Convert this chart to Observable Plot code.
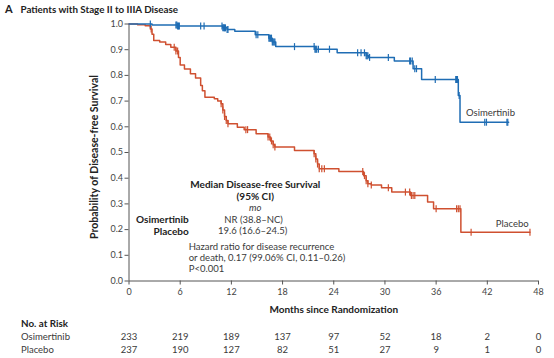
<!DOCTYPE html>
<html><head><meta charset="utf-8">
<script src="https://cdn.jsdelivr.net/npm/d3@7"></script>
<script src="https://cdn.jsdelivr.net/npm/@observablehq/plot@0.6"></script>
<style>
body{margin:0;background:#fff;}
#chart svg{display:block;}
</style></head><body><div id="chart"></div>
<script>
// ---- data ----
const panelLetter = "A";
const title = "Patients with Stage II to IIIA Disease";
const xTicks = [0, 6, 12, 18, 24, 30, 36, 42, 48];
const yTicks = [0, 0.1, 0.2, 0.3, 0.4, 0.5, 0.6, 0.7, 0.8, 0.9, 1.0];

const osiTime = [0, 2.7, 5.7, 11.0, 11.5, 12.4, 14.8, 16.4, 16.8, 17.2, 21.8, 24.4, 27.8, 28.1, 31.1, 33.3, 34.3, 38.6, 38.8];
const osiSurv = [1.0, 0.996, 0.992, 0.985, 0.979, 0.972, 0.958, 0.945, 0.93, 0.912, 0.902, 0.888, 0.876, 0.87, 0.856, 0.826, 0.784, 0.722, 0.618];
const osiEnd = 44.5;
const osiCensor = [2.5, 5.5, 5.6, 5.7, 5.8, 5.9, 8.4, 8.8, 10.9, 11.0, 11.1, 11.2, 11.3, 11.5, 11.6, 14.9, 15.1, 16.4, 16.5, 16.6, 16.7, 16.8, 16.9, 17.0, 17.1, 19.4, 21.7, 21.8, 21.9, 22.0, 22.2, 23.5, 26.8, 27.2, 27.6, 27.8, 27.9, 28.0, 28.2, 30.4, 32.9, 33.0, 33.2, 33.5, 33.7, 35.9, 38.3, 38.4, 38.5, 38.7, 41.7, 41.9, 44.3, 44.4];

const placTime = [0, 1.0, 1.9, 2.5, 2.7, 2.9, 3.6, 4.3, 4.9, 5.5, 5.8, 6.0, 6.5, 7.2, 7.8, 8.4, 8.6, 8.9, 10.0, 10.4, 10.8, 11.0, 11.2, 11.4, 11.6, 12.7, 13.5, 14.9, 16.3, 16.6, 16.9, 17.1, 19.4, 21.7, 21.9, 22.1, 22.3, 24.6, 27.5, 27.8, 28.0, 28.4, 29.6, 30.8, 33.0, 35.0, 35.7, 38.9];
const placSurv = [1.0, 0.997, 0.993, 0.981, 0.96, 0.936, 0.93, 0.92, 0.91, 0.895, 0.87, 0.84, 0.825, 0.806, 0.79, 0.761, 0.74, 0.715, 0.709, 0.70, 0.69, 0.665, 0.64, 0.625, 0.612, 0.598, 0.589, 0.573, 0.56, 0.545, 0.53, 0.521, 0.508, 0.495, 0.475, 0.455, 0.437, 0.426, 0.41, 0.39, 0.378, 0.374, 0.363, 0.346, 0.333, 0.307, 0.281, 0.19];
const placEnd = 47.0;
const placCensor = [2.6, 5.3, 5.5, 5.7, 10.8, 11.0, 11.2, 11.4, 11.6, 13.7, 13.9, 16.3, 16.5, 16.7, 16.9, 17.1, 21.7, 21.9, 22.1, 22.3, 22.6, 22.9, 27.4, 27.6, 27.8, 28.0, 28.4, 30.4, 32.4, 32.9, 33.1, 33.3, 33.5, 36.0, 38.4, 38.6, 38.8, 40.1, 47.0];

const riskMonths = [0, 6, 12, 18, 24, 30, 36, 42, 48];
const riskOsi = [233, 219, 189, 137, 97, 52, 18, 2, 0];
const riskPlac = [237, 190, 127, 82, 51, 27, 9, 1, 0];

const groupNames = ["Osimertinib", "Placebo"];
const medianText = ["NR (38.8\u2013NC)", "19.6 (16.6\u201324.5)"];
const hrLines = ["Hazard ratio for disease recurrence", "or death, 0.17 (99.06% CI, 0.11\u20130.26)", "P<0.001"];

// ---- helpers ----
const blue = "#1f6db4";
const red = "#cf5030";
const axisColor = "#555";
const dark = "#222";
const grey = "#3a3a3a";
const font = "Lato, 'Open Sans', sans-serif";

function stepData(times, surv, end) {
  const d = times.map((t, i) => ({t, s: surv[i]}));
  d.push({t: end, s: surv[surv.length - 1]});
  return d;
}
function survAt(times, surv, t) {
  let s = surv[0];
  for (let i = 0; i < times.length; i++) if (times[i] <= t) s = surv[i];
  return s;
}
const osiLine = stepData(osiTime, osiSurv, osiEnd);
const placLine = stepData(placTime, placSurv, placEnd);
const osiCens = osiCensor.map(t => ({t, s: survAt(osiTime, osiSurv, t)}));
const placCens = placCensor.map(t => ({t, s: survAt(placTime, placSurv, t)}));
const riskO = riskMonths.map((m, i) => ({m, n: riskOsi[i]}));
const riskP = riskMonths.map((m, i) => ({m, n: riskPlac[i]}));

const vbar = {draw(context, size) { const r = Math.sqrt(size / Math.PI); context.moveTo(0, -r); context.lineTo(0, r); }};

const T = (opts) => Object.assign({lineAnchor: "middle"}, opts);

const chart = Plot.plot({
  width: 554,
  height: 358,
  marginLeft: 128.5,
  marginRight: 16,
  marginTop: 23.5,
  marginBottom: 77.5,
  style: {fontFamily: font, fontSize: "9px", color: "#444", background: "#fff"},
  x: {domain: [0, 48]},
  y: {domain: [0, 1]},
  marks: [
    Plot.axisX({ticks: xTicks, tickSize: 4, tickPadding: 4, label: null, stroke: axisColor}),
    Plot.axisY({ticks: yTicks, tickFormat: d3.format(".1f"), tickSize: 4, tickPadding: 2, label: null, stroke: axisColor}),
    Plot.ruleX([0], {stroke: axisColor, strokeWidth: 1}),
    Plot.ruleY([0], {stroke: axisColor, strokeWidth: 1}),
    Plot.line(placLine, {x: "t", y: "s", curve: "step-after", stroke: red, strokeWidth: 1.5}),
    Plot.line(osiLine, {x: "t", y: "s", curve: "step-after", stroke: blue, strokeWidth: 1.5}),
    Plot.dot(placCens, {x: "t", y: "s", symbol: vbar, r: 3.5, fill: "none", stroke: red, strokeWidth: 1.2}),
    Plot.dot(osiCens, {x: "t", y: "s", symbol: vbar, r: 3.5, fill: "none", stroke: blue, strokeWidth: 1.2}),
    // curve labels
    Plot.text([groupNames[0]], T({x: 39.5, y: 0.654, textAnchor: "start", fill: grey, fontSize: 9.5})),
    Plot.text([groupNames[1]], T({x: 43.0, y: 0.223, textAnchor: "start", fill: grey, fontSize: 9.5})),
    // median box
    Plot.text(["Median Disease-free Survival"], T({x: 14.8, y: 0.375, fontWeight: "bold", fontSize: 10, fill: dark})),
    Plot.text(["(95% CI)"], T({x: 14.8, y: 0.329, fontWeight: "bold", fontSize: 10, fill: dark})),
    Plot.text(["mo"], T({x: 14.8, y: 0.283, fontStyle: "italic", fontSize: 9.5, fill: grey})),
    Plot.text([groupNames[0]], T({x: 7.0, y: 0.239, textAnchor: "end", fontWeight: "bold", fontSize: 10, fill: dark})),
    Plot.text([groupNames[1]], T({x: 7.0, y: 0.193, textAnchor: "end", fontWeight: "bold", fontSize: 10, fill: dark})),
    Plot.text([medianText[0]], T({x: 14.6, y: 0.239, fontSize: 9.5, fill: grey})),
    Plot.text([medianText[1]], T({x: 14.5, y: 0.193, fontSize: 9.5, fill: grey})),
    Plot.text([hrLines[0]], T({x: 7.0, y: 0.134, textAnchor: "start", fontSize: 9.5, fill: grey})),
    Plot.text([hrLines[1]], T({x: 7.0, y: 0.0895, textAnchor: "start", fontSize: 9.5, fill: grey})),
    Plot.text([hrLines[2]], T({x: 7.0, y: 0.0486, textAnchor: "start", fontSize: 9.5, fill: grey})),
    // title
    Plot.text([panelLetter], T({frameAnchor: "top-left", dx: -124, dy: -14.5, textAnchor: "start", fontWeight: "bold", fontSize: 11, fill: dark})),
    Plot.text([title], T({frameAnchor: "top-left", dx: -108.5, dy: -14.5, textAnchor: "start", fontWeight: "bold", fontSize: 9.8, fill: dark})),
    // axis labels
    Plot.text(["Probability of Disease-free Survival"], T({frameAnchor: "left", dx: -34.5, dy: 4.5, rotate: -90, textAnchor: "middle", fontWeight: "bold", fontSize: 10.5, fill: dark})),
    Plot.text(["Months since Randomization"], T({frameAnchor: "bottom", dy: 28.5, textAnchor: "middle", fontWeight: "bold", fontSize: 10, fill: dark})),
    // risk table
    Plot.text(["No. at Risk"], T({frameAnchor: "bottom-left", dx: -108, dy: 42.5, textAnchor: "start", fontWeight: "bold", fontSize: 9.8, fill: dark})),
    Plot.text([groupNames[0]], T({frameAnchor: "bottom-left", dx: -108, dy: 56, textAnchor: "start", fontSize: 9.5, fill: grey})),
    Plot.text([groupNames[1]], T({frameAnchor: "bottom-left", dx: -108, dy: 69, textAnchor: "start", fontSize: 9.5, fill: grey})),
    Plot.text(riskO, T({x: "m", text: d => String(d.n), frameAnchor: "bottom", dy: 56, fontSize: 9.5, fill: grey})),
    Plot.text(riskP, T({x: "m", text: d => String(d.n), frameAnchor: "bottom", dy: 69, fontSize: 9.5, fill: grey}))
  ]
});
document.getElementById("chart").appendChild(chart);
</script>
</body></html>
